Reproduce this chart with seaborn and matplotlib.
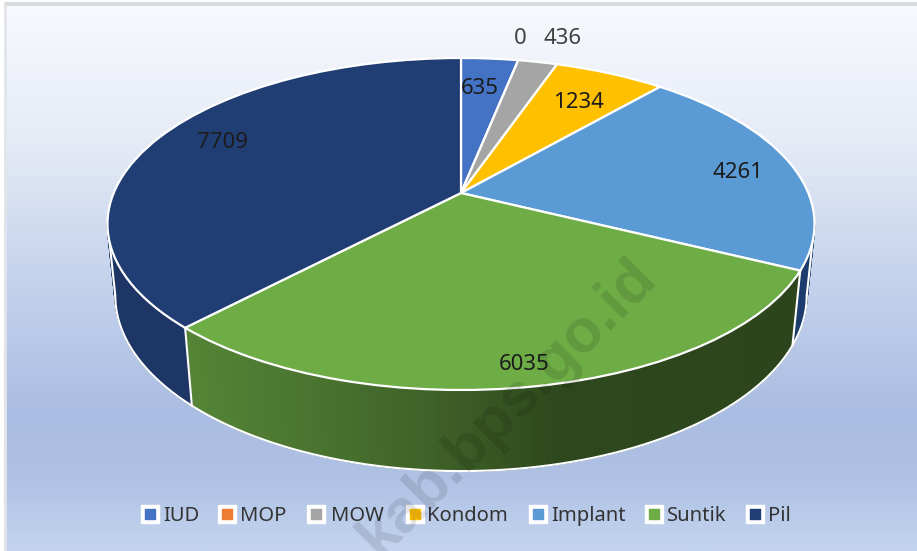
import numpy as np
import matplotlib
matplotlib.use("Agg")
import matplotlib.pyplot as plt
from matplotlib.colors import LinearSegmentedColormap, to_rgb
from matplotlib.transforms import Transform
import seaborn as sns

categories = ["IUD", "MOP", "MOW", "Kondom", "Implant", "Suntik", "Pil"]
values = [635, 0, 436, 1234, 4261, 6035, 7709]
colors = ["#4472c4", "#ed7d31", "#a5a5a5", "#ffc000", "#5b9bd5", "#6eac46", "#203e74"]

# places in pixels, picked by eye
label_px = [(480, 89), (520, 39), (562, 39), (578, 102), (738, 172), (524, 364), (222, 143)]
swatch_x = [150, 227, 316, 415, 538, 654, 755]
legend_x = [163, 240, 331, 427, 551, 667, 768]

# perspective of the tilted disc, fitted on the rim of the reference
CX, CY = 461, 193
A, B, K = 347.3, 160.2, 0.1867
DROP, M = 72, 0.0217
# the wall is only seen between the two outer tangents of the disc
SIDE_L, SIDE_R = np.radians(100.5), np.radians(259.5)


def project(x, y, low=0.0):
    w = 1 + K * y + M * low
    return CX + A * x / w, CY + (-B * y + DROP * low) / w


def rim(t, low=0.0):
    return project(np.sin(t), np.cos(t), low)


class Tilt(Transform):
    input_dims = 2
    output_dims = 2

    def transform_non_affine(self, values):
        v = np.asarray(values, dtype=float)
        sx, sy = project(v[:, 0], v[:, 1])
        return np.column_stack([sx, sy])


sns.set_theme(style="white")
plt.rcParams["font.family"] = ["Noto Sans", "DejaVu Sans"]

fig = plt.figure(figsize=(9.17, 5.51), dpi=100)
ax = fig.add_axes([0, 0, 1, 1])

# background
bg = LinearSegmentedColormap.from_list("bg", [
    (0.0, "#f8fafe"), (0.25, "#e6ebf6"), (0.47, "#c9d6ee"),
    (0.75, "#aabde2"), (0.87, "#afc2e4"), (1.0, "#c4d4ef")])
ax.imshow(np.linspace(0, 1, 256)[:, None], cmap=bg, extent=(0, 917, 551, 0), aspect="auto", zorder=0)
ax.plot([0, 917], [1, 1], color="white", lw=2, zorder=1)
ax.plot([0, 917], [4, 4], color="#d8dbdb", lw=3, zorder=1)
ax.plot([1.5, 1.5], [0, 551], color="white", lw=3, zorder=1)
ax.plot([5, 5], [4, 551], color="#e2e5ea", lw=2, zorder=1)

# side wall, built from the same shares as the pie
shares = np.array(values) / sum(values)
edges = np.concatenate([[0], np.cumsum(shares)]) * 2 * np.pi
palette = sns.color_palette(colors)
wall_px = [190, 300, 450, 560, 800]
wall_shade = [0.77, 0.68, 0.55, 0.42, 0.40]
for i, name in enumerate(categories):
    lo, hi = max(edges[i], SIDE_L), min(edges[i + 1], SIDE_R)
    if hi <= lo:
        continue
    th = np.linspace(lo, hi, max(int(np.degrees(hi - lo)), 2))
    for t0, t1 in zip(th[:-1], th[1:]):
        x0, y0 = rim(t0)
        x1, y1 = rim(t1)
        x2, y2 = rim(t1, 1)
        x3, y3 = rim(t0, 1)
        if name == "Suntik":
            c = np.array(to_rgb(palette[i])) * np.interp((x0 + x1) / 2, wall_px, wall_shade)
        elif name == "Implant":
            c = to_rgb("#1b3c6c")
        else:
            c = to_rgb("#1d3665")
        ax.fill([x0, x1, x2, x3], [y0, y1, y2, y3], color=c, lw=1.2, zorder=2)

# white rim under the wall and at the slice ends
th = np.linspace(SIDE_L, SIDE_R, 200)
bx, by = rim(th, 1)
ax.plot(bx, by, color="white", lw=1.5, zorder=3)
for e in [SIDE_L, SIDE_R, edges[5], edges[6]]:
    tx, ty = rim(e)
    lx, ly = rim(e, 1)
    ax.plot([tx, lx], [ty, ly], color="white", lw=1.5, zorder=3)

# top of the pie
wedges, _ = ax.pie(values, colors=palette, startangle=90, counterclock=False,
                   wedgeprops=dict(edgecolor="white", linewidth=1.6))
tilt = Tilt()
for w in wedges:
    w.set_transform(tilt + ax.transData)
    w.set_zorder(4)

for v, (x, y) in zip(values, label_px):
    c = "#404040" if y < 50 else "#1c1c1c"
    ax.text(x, y, str(v), ha="center", va="center", fontsize=16, color=c, zorder=6)

# legend
ax.scatter(swatch_x, [514] * 7, marker="s", s=170, color="white", zorder=5)
ax.scatter(swatch_x, [514] * 7, marker="s", s=42, color=colors, zorder=6)
for x, name in zip(legend_x, categories):
    ax.text(x, 521, name, ha="left", va="baseline", fontsize=14.5, color="#333333", zorder=6)

ax.text(508, 408, "kab.bps.go.id", rotation=45, rotation_mode="anchor", ha="center", va="center",
        fontsize=44, fontweight="bold", family="Liberation Sans", color="black", alpha=0.11, zorder=7)

ax.set_aspect("auto")
ax.set_xlim(0, 917)
ax.set_ylim(551, 0)
ax.axis("off")
fig.savefig("out.png", dpi=100)
